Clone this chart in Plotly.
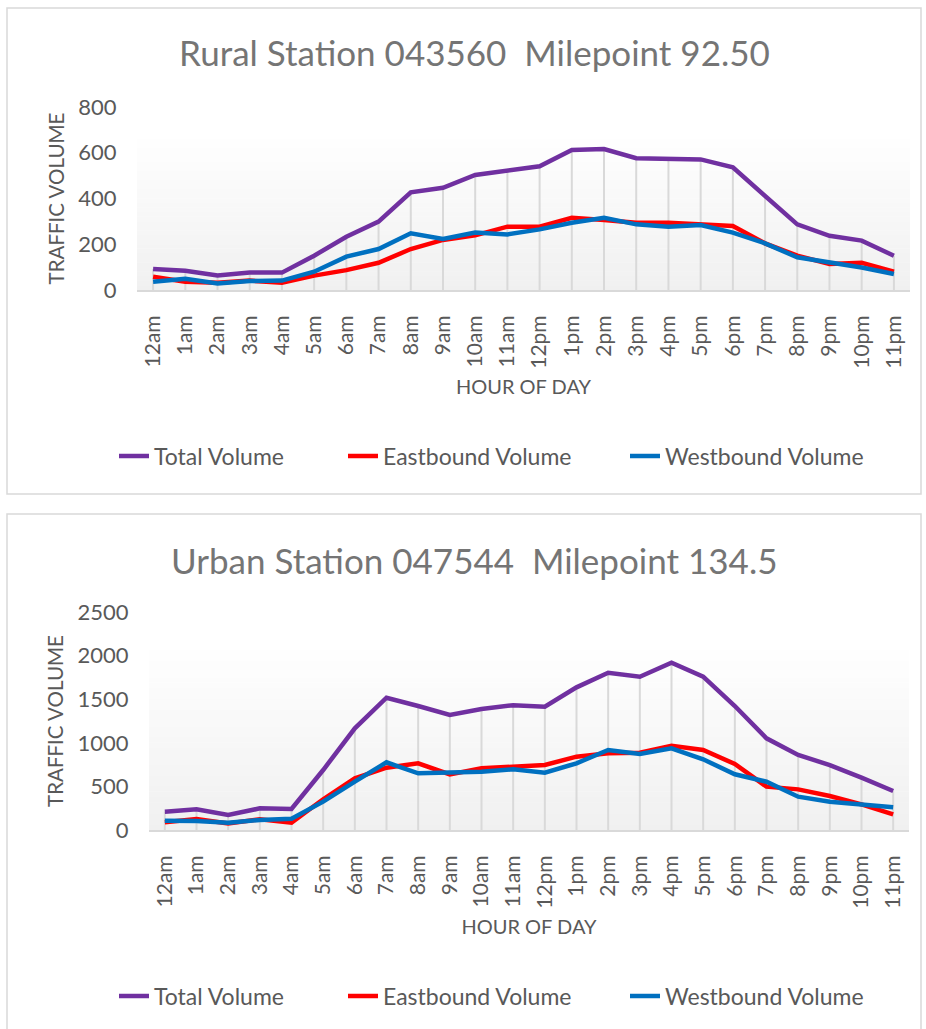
import plotly.graph_objects as go

hours = ["12am", "1am", "2am", "3am", "4am", "5am", "6am", "7am", "8am", "9am", "10am", "11am",
         "12pm", "1pm", "2pm", "3pm", "4pm", "5pm", "6pm", "7pm", "8pm", "9pm", "10pm", "11pm"]

rural_total = [92, 84, 63, 76, 76, 150, 233, 299, 427, 447, 503, 522,
               541, 612, 616, 576, 573, 571, 536, 411, 287, 237, 216, 150]
rural_east = [58, 36, 32, 41, 32, 63, 87, 119, 179, 219, 239, 277,
              277, 316, 306, 294, 294, 289, 280, 204, 150, 114, 119, 80]
rural_west = [36, 49, 29, 39, 41, 80, 146, 179, 248, 223, 251, 243,
              265, 294, 316, 287, 277, 284, 251, 204, 143, 121, 98, 70]

urban_total = [210, 237, 172, 248, 241, 688, 1166, 1517, 1422, 1319, 1388, 1431,
               1414, 1636, 1804, 1758, 1919, 1758, 1422, 1051, 860, 745, 600, 447]
urban_east = [88, 126, 76, 122, 84, 352, 593, 715, 765, 638, 707, 726,
              745, 841, 879, 887, 967, 917, 757, 497, 466, 390, 294, 180]
urban_west = [107, 103, 84, 115, 130, 325, 554, 776, 650, 658, 669, 696,
              658, 765, 917, 872, 937, 811, 639, 554, 382, 325, 294, 260]

titles = ["Rural Station 043560 \u00a0Milepoint 92.50", "Urban Station 047544 \u00a0Milepoint 134.5"]
series_names = ["Total Volume", "Eastbound Volume", "Westbound Volume"]
colors = ["#7030a0", "#ff0000", "#0070c0"]
y_ranges = [[0, 800], [0, 2500]]
y_dtick = [200, 500]

W, H = 926, 1029
FONT = "Lato"
TXT = "#595959"


def px(v):
    return v / W


def py(v):
    return 1 - v / H


fig = go.Figure()

panels = [
    dict(data=[rural_total, rural_east, rural_west], xa="x", ya="y",
         xdom=[px(137), px(910)], ydom=[py(290), py(107)],
         legends=["legend", "legend2", "legend3"], leg_y=456, title_y=52,
         box=[7, 8, 921, 494]),
    dict(data=[urban_total, urban_east, urban_west], xa="x2", ya="y2",
         xdom=[px(149), px(909)], ydom=[py(830), py(612)],
         legends=["legend4", "legend5", "legend6"], leg_y=996, title_y=560,
         box=[7, 514, 921, 1040]),
]

shapes = []
annotations = []
layout_extra = {}
legend_text_x = [154, 383, 665]

for pi, p in enumerate(panels):
    total = p["data"][0]
    # drop lines from total down to the axis
    dx, dy = [], []
    for h, v in zip(hours, total):
        dx += [h, h, None]
        dy += [0, v, None]
    fig.add_trace(go.Scatter(x=dx, y=dy, mode="lines", line=dict(color="#d9d9d9", width=2),
                             xaxis=p["xa"], yaxis=p["ya"], showlegend=False, hoverinfo="skip"))
    for si, (name, vals) in enumerate(zip(series_names, p["data"])):
        fig.add_trace(go.Scatter(x=hours, y=vals, mode="lines", name=name,
                                 line=dict(color=colors[si], width=4.5),
                                 xaxis=p["xa"], yaxis=p["ya"], legend=p["legends"][si]))
        layout_extra[p["legends"][si]] = dict(
            x=px(legend_text_x[si] - 40), xanchor="left", y=py(p["leg_y"]), yanchor="middle",
            orientation="h", bgcolor="rgba(0,0,0,0)", borderwidth=0,
            font=dict(family=FONT, size=23, color=TXT))

    # gradient background bands
    n = 40
    xref = p["xa"] + " domain"
    yref = p["ya"] + " domain"
    for k in range(n):
        f0 = k / n
        f1 = (k + 1) / n
        fm = (f0 + f1) / 2
        t = min(fm / 0.85, 1.0)
        g = int(round(240 + (255 - 240) * t))
        shapes.append(dict(type="rect", xref=xref, yref=yref, x0=0, x1=1, y0=f0, y1=f1 + 0.002,
                           fillcolor=f"rgb({g},{g},{g})", line=dict(width=0), layer="below"))
    # panel border
    b = p["box"]
    shapes.append(dict(type="rect", xref="paper", yref="paper", x0=px(b[0]), x1=px(b[2]),
                       y0=py(b[3]), y1=py(b[1]), line=dict(color="#d9d9d9", width=1.5),
                       fillcolor="rgba(0,0,0,0)", layer="below"))
    annotations.append(dict(text=titles[pi], xref="paper", yref="paper", x=px(474), y=py(p["title_y"]),
                            xanchor="center", yanchor="middle", showarrow=False,
                            font=dict(family=FONT, size=35, color="#757575")))

    axis_x = dict(domain=p["xdom"], type="category", range=[-0.5, 23.5],
                  showline=True, linecolor="#d9d9d9", linewidth=2, showgrid=False,
                  zeroline=False, tickangle=-90, ticks="outside", ticklen=15,
                  tickcolor="rgba(0,0,0,0)",
                  tickfont=dict(family=FONT, size=21, color=TXT),
                  title=dict(text="HOUR OF DAY", standoff=12,
                             font=dict(family=FONT, size=20, color=TXT)),
                  automargin=False, fixedrange=True)
    axis_y = dict(domain=p["ydom"], range=y_ranges[pi], dtick=y_dtick[pi], tick0=0,
                  showline=False, showgrid=False, zeroline=False,
                  ticks="outside", ticklen=15, tickcolor="rgba(0,0,0,0)",
                  tickfont=dict(family=FONT, size=22, color=TXT),
                  title=dict(text="TRAFFIC VOLUME", standoff=8,
                             font=dict(family=FONT, size=20.5, color=TXT)),
                  automargin=False, fixedrange=True)
    if pi == 0:
        axis_x["anchor"] = "y"
        axis_y["anchor"] = "x"
        layout_extra["xaxis"] = axis_x
        layout_extra["yaxis"] = axis_y
    else:
        axis_x["anchor"] = "y2"
        axis_y["anchor"] = "x2"
        layout_extra["xaxis2"] = axis_x
        layout_extra["yaxis2"] = axis_y

fig.update_layout(width=W, height=H, margin=dict(l=0, r=0, t=0, b=0),
                  paper_bgcolor="white", plot_bgcolor="rgba(0,0,0,0)",
                  shapes=shapes, annotations=annotations,
                  font=dict(family=FONT, color=TXT), **layout_extra)

fig.write_html("out.html", config={"displayModeBar": False},
               post_script="document.body.style.margin='0px';document.body.style.overflow='hidden';")
